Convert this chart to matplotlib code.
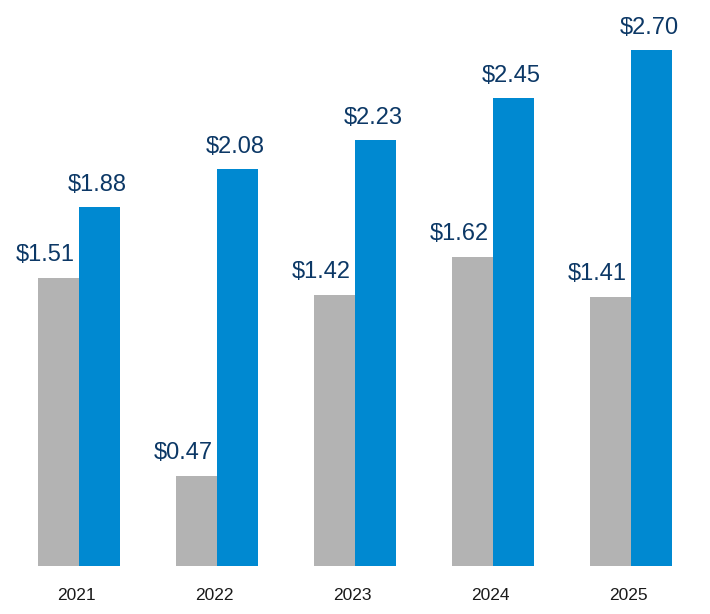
import matplotlib
matplotlib.use("Agg")
import matplotlib.pyplot as plt
import numpy as np

years = ["2021", "2022", "2023", "2024", "2025"]
gray_vals = [1.51, 0.47, 1.42, 1.62, 1.41]
blue_vals = [1.88, 2.08, 2.23, 2.45, 2.70]

plt.rcParams['font.family'] = ['Liberation Sans', 'DejaVu Sans']

fig = plt.figure(figsize=(7.1, 6.14), dpi=100)
ax = fig.add_axes([0, 0, 1, 1])
ppu = 191.0
ax.set_xlim(-79 / 138, (710 - 79) / 138)
ax.set_ylim(-48 / ppu, 566 / ppu)
ax.axis('off')

x = np.arange(len(years))
w = 41 / 138
gray_c = '#b3b3b3'
blue_c = '#0089d1'
lab_c = '#0c3866'

gb = ax.bar(x - w / 2, gray_vals, width=w, color=gray_c, linewidth=0)
bb = ax.bar(x + w / 2, blue_vals, width=w, color=blue_c, linewidth=0)

for xi, v in zip(x, gray_vals):
    ax.annotate(f"${v:.2f}", (xi - w / 2, v), xytext=(-13, 17),
                textcoords='offset pixels', ha='center', va='baseline',
                fontsize=17, color=lab_c)
for xi, v in zip(x, blue_vals):
    ax.annotate(f"${v:.2f}", (xi + w / 2, v), xytext=(-2, 16),
                textcoords='offset pixels', ha='center', va='baseline',
                fontsize=17, color=lab_c)

for xi, yl in zip(x, years):
    ax.text(xi - 3 / 138, -29.5 / ppu, yl, ha='center', va='center',
            fontsize=12.5, color='#1a1a1a')

fig.savefig("out.png", dpi=100)
